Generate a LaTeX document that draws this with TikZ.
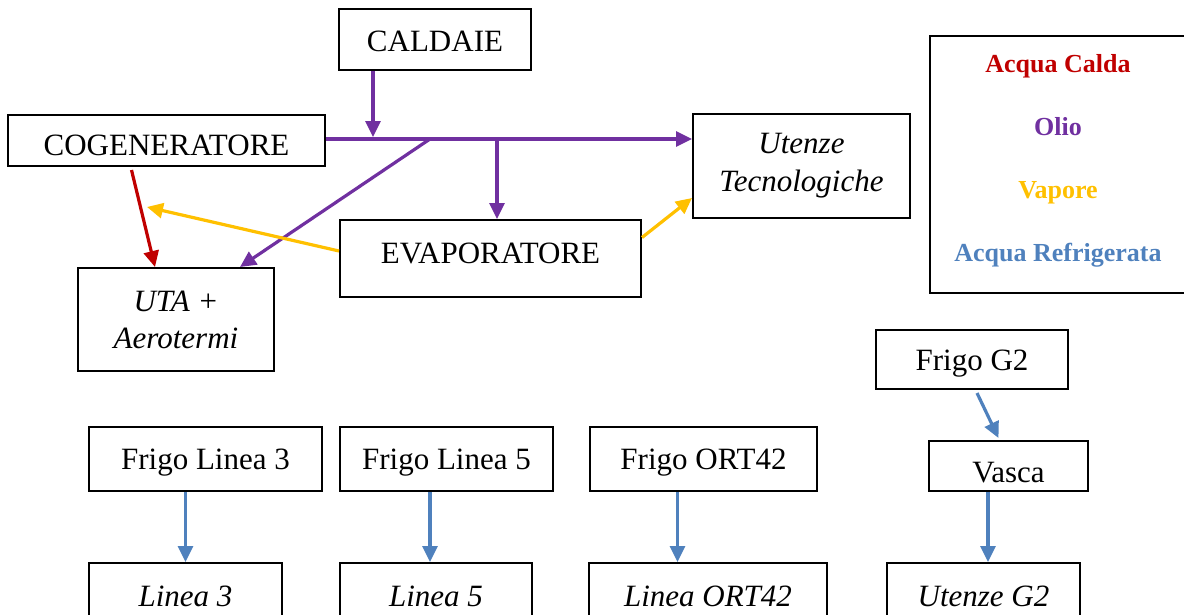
\documentclass[tikz,border=0pt]{standalone}
\usepackage{fontspec}
\setmainfont{Liberation Serif}
\usetikzlibrary{arrows.meta}
\definecolor{cOil}{HTML}{7030A0}
\definecolor{cHot}{HTML}{C00000}
\definecolor{cSteam}{HTML}{FFC000}
\definecolor{cChill}{HTML}{4F81BD}
\begin{document}
\begin{tikzpicture}[x=1pt,y=-1pt,
  box/.style={draw, line width=2pt, inner sep=0pt, align=center,
    font=\fontsize{31}{38}\selectfont},
  legtxt/.style={anchor=base, font=\fontsize{26}{30}\selectfont\bfseries},
  flow/.style={line width=3.2pt, -{Triangle[length=16pt,width=15pt]}},
  oilflow/.style={flow, cOil},
  hotflow/.style={flow, cHot},
  steamflow/.style={flow, cSteam},
  chillflow/.style={flow, cChill}]
\useasboundingbox (0,0) rectangle (1184,614);

% upper plant
\node[box, minimum width=192pt, minimum height=61pt, text height=23.5pt, text depth=0pt] (cald) at (435,39.5) {CALDAIE};
\node[box, minimum width=317pt, minimum height=51pt, text height=29pt, text depth=0pt] (cog) at (166.5,140.5) {COGENERATORE};
\node[box, minimum width=217pt, minimum height=104pt, font=\fontsize{31}{38}\selectfont\itshape] (ute) at (801.5,166) {Utenze\\Tecnologiche};
\node[box, minimum width=301pt, minimum height=77pt, text height=21pt, text depth=12pt] (evap) at (490.5,258.5) {EVAPORATORE};
\node[box, minimum width=196pt, minimum height=103pt, font=\fontsize{31}{37}\selectfont\itshape] (uta) at (176,319.5) {UTA +\\Aerotermi};

% legend
\node[draw, line width=2pt, minimum width=260pt, minimum height=257pt] (legend) at (1060,164.5) {};
\node[legtxt, text=cHot] (lhot) at (1058,72) {Acqua Calda};
\node[legtxt, text=cOil] (loil) at (1058,135) {Olio};
\node[legtxt, text=cSteam] (lsteam) at (1058,198) {Vapore};
\node[legtxt, text=cChill] (lchill) at (1058,261) {Acqua Refrigerata};

% chilled water circuits
\node[box, minimum width=192pt, minimum height=59pt, text height=27pt, text depth=6pt] (fg2) at (972,359.5) {Frigo G2};
\node[box, minimum width=159pt, minimum height=50pt, text height=32pt, text depth=0pt] (vasca) at (1008.5,466) {Vasca};
\node[box, minimum width=233pt, minimum height=64pt, text height=26pt, text depth=6pt] (fl3) at (205.5,459) {Frigo Linea 3};
\node[box, minimum width=213pt, minimum height=64pt, text height=26pt, text depth=6pt] (fl5) at (446.5,459) {Frigo Linea 5};
\node[box, minimum width=227pt, minimum height=64pt, text height=26pt, text depth=6pt] (fort) at (703.5,459) {Frigo ORT42};
\node[box, minimum width=193pt, minimum height=64pt, text height=28pt, text depth=6pt, font=\fontsize{31}{38}\selectfont\itshape] (l3) at (185.5,595) {Linea 3};
\node[box, minimum width=192pt, minimum height=64pt, text height=28pt, text depth=6pt, font=\fontsize{31}{38}\selectfont\itshape] (l5) at (436,595) {Linea 5};
\node[box, minimum width=238pt, minimum height=64pt, text height=28pt, text depth=6pt, font=\fontsize{31}{38}\selectfont\itshape] (lort) at (708,595) {Linea ORT42};
\node[box, minimum width=193pt, minimum height=64pt, text height=28pt, text depth=6pt, font=\fontsize{31}{38}\selectfont\itshape] (ug2) at (983.5,595) {Utenze G2};

% oil distribution
\coordinate (jc) at (373,139);
\coordinate (jd) at (430,139);
\coordinate (je) at (497,139);
\draw[oilflow] (cald.south -| jc) -- ([yshift=2pt]jc);
\draw[oilflow] (cog.east |- jc) -- (ute.west |- jc);
\draw[oilflow] (je) -- (evap.north -| je);
\draw[oilflow] (jd) -- ([xshift=64pt]uta.north);

% hot water
\draw[hotflow] ([xshift=-35pt,yshift=-3pt]cog.south) -- ([xshift=-21pt]uta.north);

% steam
\coordinate (vs) at (147,207);
\draw[steamflow] ([yshift=7.5pt]evap.west) -- (vs);
\draw[steamflow] ([yshift=21pt]evap.east) -- ([yshift=-32pt]ute.west);

% chilled water
\coordinate (a3) at (l3.north);
\coordinate (a5) at ([xshift=-6pt]l5.north);
\coordinate (ao) at ([xshift=-30.5pt]lort.north);
\coordinate (ag) at ([xshift=4.5pt]ug2.north);
\draw[chillflow] ([xshift=5pt,yshift=-3pt]fg2.south) -- ([xshift=-10pt,yshift=2pt]vasca.north);
\draw[chillflow] (a3 |- fl3.south) -- (a3);
\draw[chillflow] (a5 |- fl5.south) -- (a5);
\draw[chillflow] (ao |- fort.south) -- (ao);
\draw[chillflow] (ag |- vasca.south) -- (ag);
\end{tikzpicture}
\end{document}
